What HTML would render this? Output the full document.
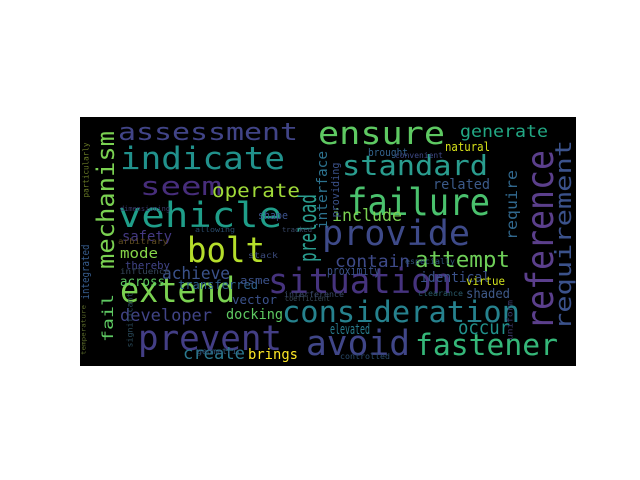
<!DOCTYPE html>
<html><head><meta charset="utf-8"><style>
html,body{margin:0;padding:0;background:#fff;width:640px;height:480px;overflow:hidden}
svg text{font-family:"DejaVu Sans Mono","Liberation Mono",monospace}
</style></head><body>
<svg id="wc" width="640" height="480" viewBox="0 0 640 480">
<defs><clipPath id="clip"><rect x="80" y="117" width="496" height="249"/></clipPath></defs>
<rect x="80" y="117" width="496" height="249" fill="#000"/>
<g id="words" clip-path="url(#clip)"></g>
</svg>
<script>
const words = ["assessment","indicate","seem","operate","vehicle","bolt","mechanism","extend","prevent","developer","docking","create","brings","mode","achieve","across","safety","fail","ensure","standard","failure","provide","situation","consideration","avoid","fastener","reference","requirement","generate","natural","related","include","require","preload","interface","attempt","contain","proximity","identical","virtue","shaded","occur","elevated","integrated","thereby","transferred","vector","shape","asme","brought","convenient","providing","particularly","influence","arbitrary","geometric","controlled","clearance","especially","stack","coefficient","interference","significant","uniform","tracked","allowing","dimensioning","temperature"];
const xs = [118,120,140,212,118,187,106,120,138,120,226,183,248,120,162,120,122,108,318,342,347,322,268,282,306,415,540,564,460,445,433,332,512,308,323,415,335,327,420,466,466,458,330,86,125,178,232,258,240,368,395,336,86,120,118,197,340,418,405,248,285,284,130,510,282,195,120,84];
const ys = [141,170,196,198,228,263,200,303,351,322,320,360,360,259,280,287,242,318,145,176,216,246,294,323,356,356,240,235,138,152,190,222,205,228,190,268,268,276,283,286,299,335,335,272,270,290,305,220,285,157,159,190,170,275,245,355,360,297,265,259,302,298,320,320,233,233,212,330];
const ws = [180,165,82,88,164,78,138,115,144,92,57,62,50,38,68,45,50,48,127,146,143,148,184,238,104,143,180,190,88,45,57,70,70,68,78,95,75,53,70,39,44,52,40,55,45,80,45,30,30,40,48,55,55,50,50,45,50,45,50,30,45,60,55,40,30,40,50,50];
const sz = [28,36,30,22,40,40,28,40,40,20,17,20,17,17,20,15,16,18,36,32,44,40,40,34,40,34,44,26,20,14,17,20,18,28,16,26,20,14,16,13,15,22,16,12,12,14,14,12,12,12,9,12,9,9,9,9,9,9,9,9,9,9,9,9,8,8,8,7];
const cols = ["#414487","#21918c","#472d7b","#a0da39","#1f9e89","#b5de2b","#7ad151","#7ad151","#433e85","#414487","#5ec962","#2a788e","#fde725","#86d549","#3b528b","#5ec962","#443983","#5ec962","#5ec962","#2a9d8f","#4ac16d","#3e4a89","#46337e","#26828e","#404688","#35b779","#5b3f8c","#3b528b","#22a884","#d8e219","#3b5a8a","#7ad151","#31688e","#2a9d8f","#2c728e","#6ece58","#3e4a89","#3b528b","#3b528b","#d0e11c","#3f5a8a","#21918c","#287d8e","#365c8d","#414487","#2d5f8a","#3b528b","#3b528b","#3b528b","#33638d","#3f4a88","#3b528b","#6b7d26","#36475c","#5e4b20","#30567a","#2a4a6a","#2a5a6a","#31527a","#3b4a7a","#394a5a","#3b4a6a","#2a4a5a","#3b3a6a","#3a4a6a","#2a4a6a","#3a3a6a","#5a6a2a"];
const vert = [0,0,0,0,0,0,1,0,0,0,0,0,0,0,0,0,0,1,0,0,0,0,0,0,0,0,1,1,0,0,0,0,1,1,1,0,0,0,0,0,0,0,0,1,0,0,0,0,0,0,0,1,1,0,0,0,0,0,0,0,0,0,1,1,0,0,0,1];
const g = document.getElementById('words');
const NS = 'http://www.w3.org/2000/svg';
for (let i = 0; i < words.length; i++) {
  const t = document.createElementNS(NS, 'text');
  
  
  t.textContent = words[i];
  t.setAttribute('font-size', (sz[i] * 0.86).toFixed(1));
  t.setAttribute('fill', cols[i]);
  t.setAttribute('textLength', ws[i]);
  t.setAttribute('lengthAdjust', 'spacingAndGlyphs');
  if (vert[i]) {
    t.setAttribute('text-anchor', 'middle');
    t.setAttribute('dominant-baseline', 'central');
    t.setAttribute('transform', 'translate(' + xs[i] + ',' + ys[i] + ') rotate(-90)');
  } else {
    t.setAttribute('x', xs[i]);
    t.setAttribute('y', ys[i] - 1);
  }
  g.appendChild(t);
}
</script>
</body></html>
